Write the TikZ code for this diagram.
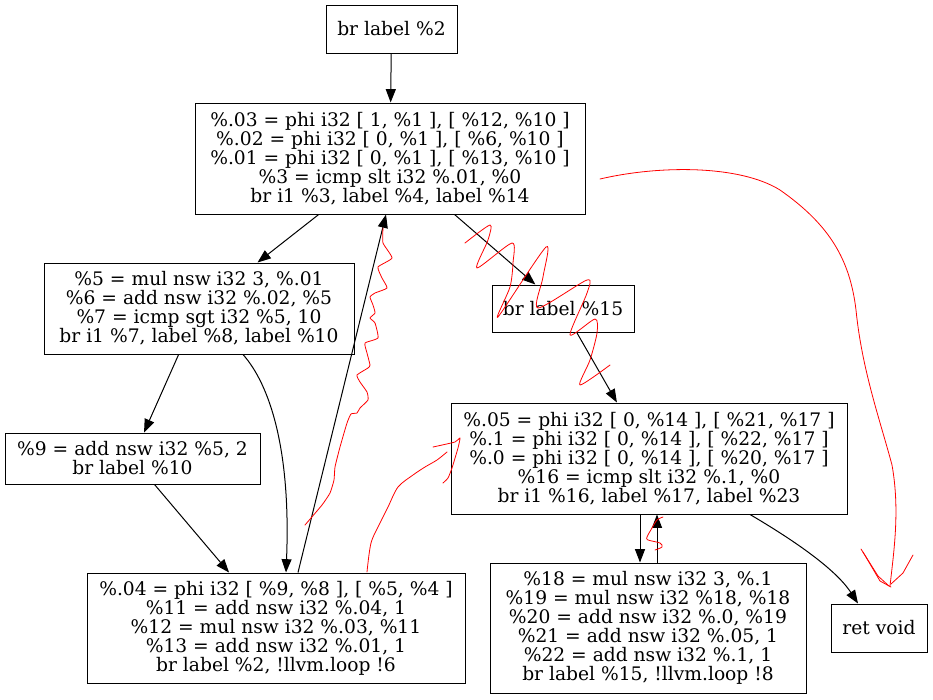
\documentclass[tikz,border=0pt]{standalone}
\usepackage{fontspec}
\setmainfont{DejaVu Serif}
\usetikzlibrary{arrows.meta,calc}
\begin{document}
\begin{tikzpicture}[x=0.75pt,y=-0.75pt,
  block/.style={draw,line width=0.75pt,inner sep=0pt,align=center,
    font=\fontsize{14}{14.25}\selectfont},
  flow/.style={line width=0.75pt,-{Triangle[length=10pt,width=7.5pt]}},
  scribble/.style={red,line width=0.6pt,line join=round,line cap=round}]
\useasboundingbox (0,0) rectangle (933,700);

% basic blocks of the control-flow graph
\node[block,minimum width=98.25pt,minimum height=36pt] (b0) at (391.5,29) {br label \%2};
\node[block,minimum width=292.5pt,minimum height=83.25pt] (b2) at (390,158.5)
  {\%.03 = phi i32 [ 1, \%1 ], [ \%12, \%10 ]\\
   \%.02 = phi i32 [ 0, \%1 ], [ \%6, \%10 ]\\
   \%.01 = phi i32 [ 0, \%1 ], [ \%13, \%10 ]\\
   \%3 = icmp slt i32 \%.01, \%0\\
   br i1 \%3, label \%4, label \%14};
\node[block,minimum width=232.5pt,minimum height=68.25pt] (b4) at (199,308.5)
  {\%5 = mul nsw i32 3, \%.01\\
   \%6 = add nsw i32 \%.02, \%5\\
   \%7 = icmp sgt i32 \%5, 10\\
   br i1 \%7, label \%8, label \%10};
\node[block,minimum width=106.5pt,minimum height=35.25pt] (b14) at (563,308.5) {br label \%15};
\node[block,minimum width=191.25pt,minimum height=38.25pt] (b8) at (132.5,458.5)
  {\%9 = add nsw i32 \%5, 2\\
   br label \%10};
\node[block,minimum width=297pt,minimum height=83.25pt] (b15) at (649,458.5)
  {\%.05 = phi i32 [ 0, \%14 ], [ \%21, \%17 ]\\
   \%.1 = phi i32 [ 0, \%14 ], [ \%22, \%17 ]\\
   \%.0 = phi i32 [ 0, \%14 ], [ \%20, \%17 ]\\
   \%16 = icmp slt i32 \%.1, \%0\\
   br i1 \%16, label \%17, label \%23};
\node[block,minimum width=283.5pt,minimum height=82.5pt] (b10) at (276,628)
  {\%.04 = phi i32 [ \%9, \%8 ], [ \%5, \%4 ]\\
   \%11 = add nsw i32 \%.04, 1\\
   \%12 = mul nsw i32 \%.03, \%11\\
   \%13 = add nsw i32 \%.01, 1\\
   br label \%2, !llvm.loop !6};
\node[block,minimum width=237pt,minimum height=97.5pt] (b17) at (648,628)
  {\%18 = mul nsw i32 3, \%.1\\
   \%19 = mul nsw i32 \%18, \%18\\
   \%20 = add nsw i32 \%.0, \%19\\
   \%21 = add nsw i32 \%.05, 1\\
   \%22 = add nsw i32 \%.1, 1\\
   br label \%15, !llvm.loop !8};
\node[block,minimum width=72pt,minimum height=36pt] (b23) at (879,628) {ret void};

% control-flow edges
\draw[flow] (b0) -- (b2);
\draw[flow] (b2) -- (b4);
\draw[flow] (b2) -- (b14);
\draw[flow] (b4) -- (b8);
\draw[flow] ($(b4.south)+(44,0)$) .. controls (270,385) and (291,450) .. ($(b10.north)+(10,0)$);
\draw[flow] (b8) -- (b10);
\draw[flow] ($(b10.north)+(22,0)$) -- ($(b2.south)+(-4,0)$);
\draw[flow] (b14) -- (b15);
\draw[flow] ($(b15.south)+(-9,0)$) -- ($(b17.north)+(-8,0)$);
\draw[flow] ($(b17.north)+(9,0)$) -- ($(b15.south)+(8,0)$);
\draw[flow] ($(b15.south)+(101,0)$) .. controls (790,538) and (835,568) .. ($(b23.north)+(-21,0)$);

% red freehand marks
\draw[scribble] (600,179) .. controls (660,165) and (740,165) .. (780,190)
  .. controls (830,225) and (850,260) .. (856,310)
  .. controls (862,370) and (880,420) .. (892,465)
  .. controls (900,510) and (894,550) .. (890,586);
\draw[scribble] (861,549) -- (878,576) -- (889,586);
\draw[scribble] (863,552) -- (880,581) -- (891,587);
\draw[scribble] (913,555) -- (903,573) -- (891,584);

\draw[scribble] plot[smooth,tension=0.45] coordinates {(465,243) (490,225) (488,240) (477,268)
  (512,243) (513,263) (510,287) (498,317) (546,247) (543,277) (538,308) (587,280) (587,293)
  (570,335) (595,319) (597,333) (590,360) (580,385) (610,365)};

\draw[scribble] plot[smooth,tension=0.3] coordinates {(383,228) (383,243) (392,258) (378,267)
  (382,278) (387,288) (375,293) (370,297) (373,305) (375,313) (370,318) (375,323) (378,338)
  (365,343) (367,353) (370,365) (368,368) (357,375) (360,382) (367,392) (368,400) (360,408)
  (357,413) (351,414) (347,423) (340,447) (335,467) (334,480) (330,493) (322,505) (305,525)};

\draw[scribble] plot[smooth,tension=0.5] coordinates {(367,572) (371,543) (380,523) (388,507)
  (398,487) (413,475) (425,467) (437,460) (447,452)};
\draw[scribble] plot[smooth,tension=0.3] coordinates {(433,447) (455,442) (460,438) (458,448)
  (452,468) (448,478) (443,483)};

\draw[scribble] plot[smooth,tension=0.5] coordinates {(663,517) (657,520) (652,528) (647,537)
  (648,540) (660,543) (662,547) (655,550)};
\end{tikzpicture}
\end{document}
